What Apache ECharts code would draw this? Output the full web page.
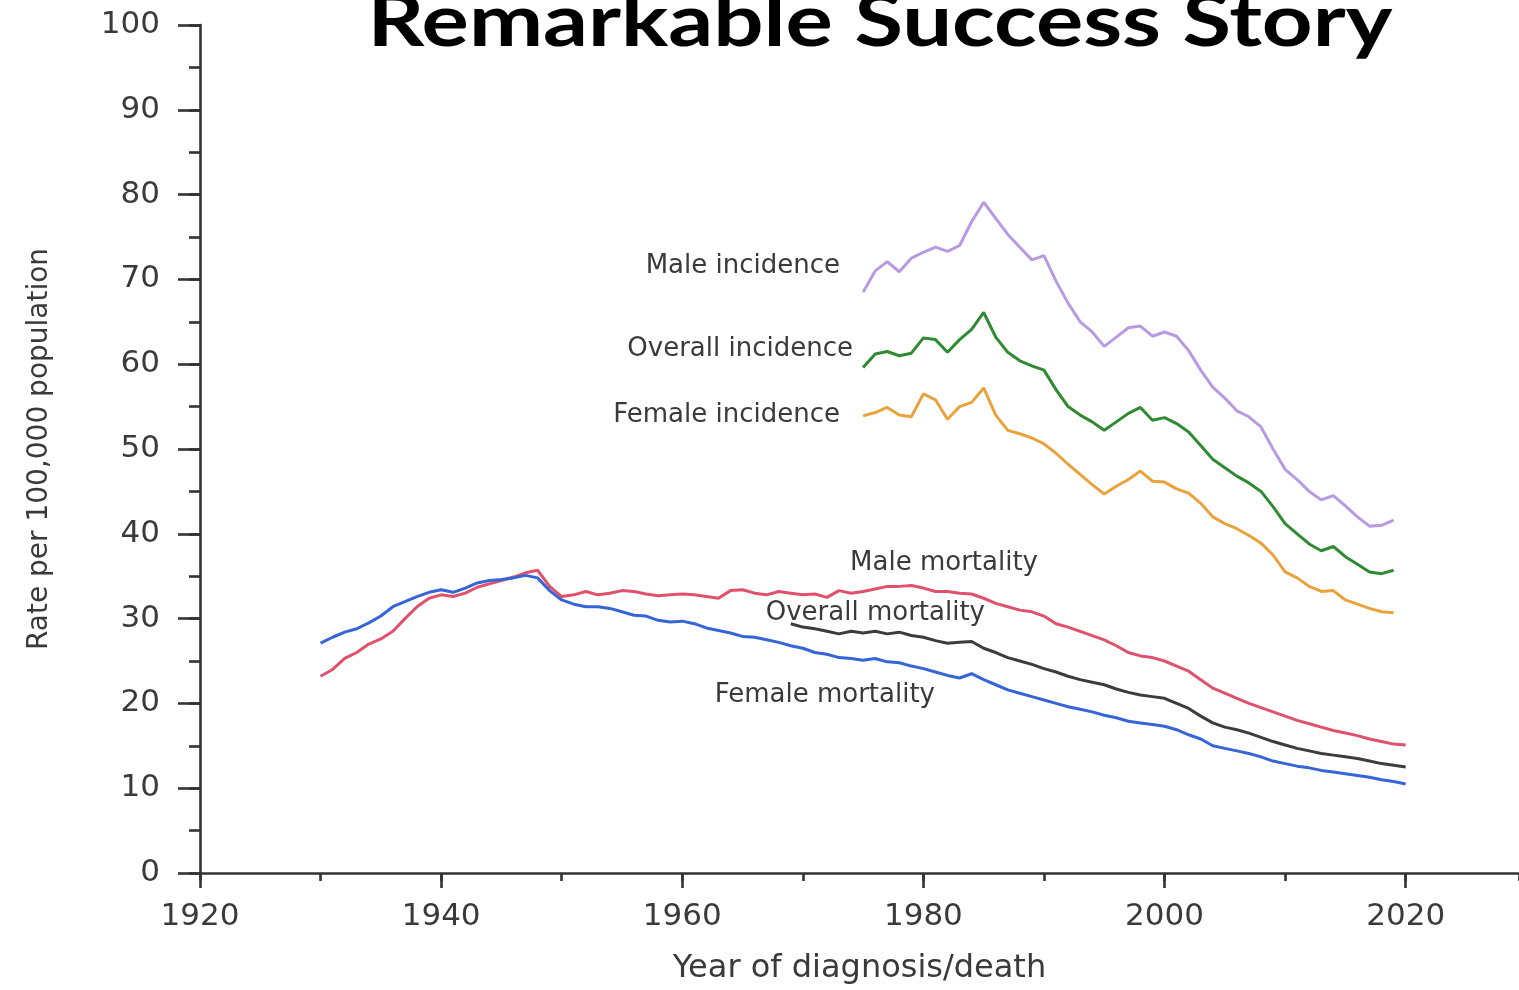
<!DOCTYPE html>
<html>
<head>
<meta charset="utf-8">
<script src="https://cdn.jsdelivr.net/npm/echarts@6/dist/echarts.min.js"></script>
<style>
html,body{margin:0;padding:0;background:#fff;}
#chart{width:1519px;height:990px;}
</style>
</head>
<body>
<div id="chart"></div>
<script>
// ---- Data ----
const mortalityYears = [1930,1931,1932,1933,1934,1935,1936,1937,1938,1939,1940,1941,1942,1943,1944,1945,1946,1947,1948,1949,1950,1951,1952,1953,1954,1955,1956,1957,1958,1959,1960,1961,1962,1963,1964,1965,1966,1967,1968,1969,1970,1971,1972,1973,1974,1975,1976,1977,1978,1979,1980,1981,1982,1983,1984,1985,1986,1987,1988,1989,1990,1991,1992,1993,1994,1995,1996,1997,1998,1999,2000,2001,2002,2003,2004,2005,2006,2007,2008,2009,2010,2011,2012,2013,2014,2015,2016,2017,2018,2019,2020];
const femaleMortality = [27.1,27.8,28.4,28.8,29.5,30.3,31.4,32.0,32.6,33.1,33.4,33.1,33.6,34.2,34.5,34.6,34.8,35.1,34.8,33.3,32.2,31.7,31.4,31.4,31.2,30.8,30.4,30.3,29.8,29.6,29.7,29.4,28.9,28.6,28.3,27.9,27.8,27.5,27.2,26.8,26.5,26.0,25.8,25.4,25.3,25.1,25.3,24.9,24.8,24.4,24.1,23.7,23.3,23.0,23.5,22.8,22.2,21.6,21.2,20.8,20.4,20.0,19.6,19.3,19.0,18.6,18.3,17.9,17.7,17.5,17.3,16.9,16.3,15.8,15.0,14.7,14.4,14.1,13.7,13.2,12.9,12.6,12.4,12.1,11.9,11.7,11.5,11.3,11.0,10.8,10.5];
const maleMortality = [23.2,24.0,25.3,26.0,27.0,27.6,28.5,30.0,31.4,32.4,32.8,32.6,33.0,33.7,34.1,34.5,34.9,35.4,35.7,33.8,32.6,32.8,33.2,32.8,33.0,33.3,33.2,32.9,32.7,32.8,32.9,32.8,32.6,32.4,33.3,33.4,33.0,32.8,33.2,33.0,32.8,32.9,32.5,33.3,33.0,33.2,33.5,33.8,33.8,33.9,33.6,33.2,33.2,33.0,32.9,32.4,31.8,31.4,31.0,30.8,30.3,29.4,29.0,28.5,28.0,27.5,26.8,26.0,25.6,25.4,25.0,24.4,23.8,22.8,21.8,21.2,20.6,20.0,19.5,19.0,18.5,18.0,17.6,17.2,16.8,16.5,16.2,15.8,15.5,15.2,15.1];
const overallMortalityYears = [1969,1970,1971,1972,1973,1974,1975,1976,1977,1978,1979,1980,1981,1982,1983,1984,1985,1986,1987,1988,1989,1990,1991,1992,1993,1994,1995,1996,1997,1998,1999,2000,2001,2002,2003,2004,2005,2006,2007,2008,2009,2010,2011,2012,2013,2014,2015,2016,2017,2018,2019,2020];
const overallMortality = [29.4,29.0,28.8,28.5,28.2,28.5,28.3,28.5,28.2,28.4,28.0,27.8,27.4,27.1,27.2,27.3,26.5,26.0,25.4,25.0,24.6,24.1,23.7,23.2,22.8,22.5,22.2,21.7,21.3,21.0,20.8,20.6,20.0,19.4,18.5,17.7,17.2,16.9,16.5,16.0,15.5,15.1,14.7,14.4,14.1,13.9,13.7,13.5,13.2,12.9,12.7,12.5];
const incidenceYears = [1975,1976,1977,1978,1979,1980,1981,1982,1983,1984,1985,1986,1987,1988,1989,1990,1991,1992,1993,1994,1995,1996,1997,1998,1999,2000,2001,2002,2003,2004,2005,2006,2007,2008,2009,2010,2011,2012,2013,2014,2015,2016,2017,2018,2019];
const maleIncidence = [68.5,71.0,72.1,70.9,72.5,73.2,73.8,73.3,74.0,76.8,79.1,77.2,75.3,73.8,72.3,72.8,69.8,67.2,65.0,63.8,62.1,63.2,64.3,64.5,63.3,63.8,63.3,61.6,59.3,57.3,56.0,54.5,53.8,52.6,50.0,47.6,46.4,45.0,44.0,44.5,43.3,42.0,40.9,41.0,41.6];
const overallIncidence = [59.6,61.2,61.5,61.0,61.3,63.1,62.9,61.4,62.9,64.1,66.1,63.2,61.4,60.4,59.8,59.3,57.0,55.0,54.0,53.2,52.2,53.2,54.2,54.9,53.4,53.7,53.0,52.0,50.4,48.8,47.8,46.8,46.0,45.0,43.2,41.2,40.0,38.8,38.0,38.5,37.3,36.4,35.5,35.3,35.7];
const femaleIncidence = [53.9,54.3,54.9,54.0,53.8,56.5,55.8,53.5,55.0,55.5,57.2,54.0,52.2,51.8,51.3,50.6,49.5,48.2,47.0,45.8,44.7,45.6,46.4,47.4,46.2,46.1,45.3,44.8,43.6,42.0,41.2,40.6,39.8,38.9,37.5,35.5,34.8,33.8,33.2,33.3,32.2,31.7,31.2,30.8,30.7];

const titleText = 'Remarkable Success Story';
const xAxisTitle = 'Year of diagnosis/death';
const yAxisTitle = 'Rate per 100,000 population';
const seriesLabels = ['Male incidence','Overall incidence','Female incidence','Male mortality','Overall mortality','Female mortality'];

function zip(xs, ys){ return xs.map((x,i)=>[x, ys[i]]); }

const chart = echarts.init(document.getElementById('chart'));
const axisColor = '#333';
const labelFont = {fontFamily:'DejaVu Sans', fontSize:31, color:'#3a3a3a'};

function line(name, xs, ys, color){
  return {type:'line', name, data: zip(xs, ys), xAxisIndex:0, yAxisIndex:0,
    showSymbol:false, symbol:'none', smooth:false,
    lineStyle:{color, width:3}, itemStyle:{color}, z:3};
}

function ann(text, right, cy){
  return {type:'text', x:right, y:cy, z:10,
    style:{text, x:0, y:0, align:'right', verticalAlign:'middle',
      font:'26px "DejaVu Sans"', fill:'#3a3a3a'}};
}

const option = {
  animation:false,
  backgroundColor:'#fff',
  grid:{left:200, right:-5, top:25, bottom:115, containLabel:false},
  xAxis:[
    {type:'value', min:1920, max:2029.4, interval:20, position:'bottom',
      axisLine:{show:true, onZero:false, lineStyle:{color:axisColor, width:2.6}},
      axisTick:{show:true, length:15, lineStyle:{color:axisColor, width:2.6}},
      axisLabel:{...labelFont, margin:28, showMaxLabel:false, formatter:v => (v % 20 === 0 ? String(v) : '')},
      splitLine:{show:false},
      name:xAxisTitle, nameLocation:'middle', nameGap:80,
      nameTextStyle:{fontFamily:'DejaVu Sans', fontSize:32, color:'#3a3a3a'}},
    {type:'value', min:1920, max:2029.4, interval:10, position:'bottom', offset:0,
      axisLine:{show:false, onZero:false},
      axisTick:{show:true, length:8, lineStyle:{color:axisColor, width:2.6}},
      axisLabel:{show:false}, splitLine:{show:false}}
  ],
  yAxis:[
    {type:'value', min:0, max:100, interval:10, position:'left',
      axisLine:{show:true, onZero:false, lineStyle:{color:axisColor, width:2.6}},
      axisTick:{show:true, length:22, lineStyle:{color:axisColor, width:2.6}},
      axisLabel:{...labelFont, margin:40},
      splitLine:{show:false},
      name:yAxisTitle, nameLocation:'middle', nameGap:146,
      nameTextStyle:{fontFamily:'DejaVu Sans', fontSize:28, color:'#3a3a3a'}},
    {type:'value', min:0, max:100, interval:5, position:'left', offset:0,
      axisLine:{show:false, onZero:false},
      axisTick:{show:true, length:11, lineStyle:{color:axisColor, width:2.6}},
      axisLabel:{show:false}, splitLine:{show:false}}
  ],
  series:[
    line(seriesLabels[0], incidenceYears, maleIncidence, '#b79be2'),
    line(seriesLabels[1], incidenceYears, overallIncidence, '#2f8a32'),
    line(seriesLabels[2], incidenceYears, femaleIncidence, '#e9a23c'),
    line(seriesLabels[3], mortalityYears, maleMortality, '#e0516c'),
    line(seriesLabels[4], overallMortalityYears, overallMortality, '#3c3c3c'),
    line(seriesLabels[5], mortalityYears, femaleMortality, '#3565d6')
  ],
  graphic:[
    {type:'text', x:880, y:23, scaleX:1.23, z:20,
      style:{text:titleText, x:0, y:0, align:'center', verticalAlign:'middle',
        font:'bold 72px Lato', fill:'#000'}},
    ann(seriesLabels[0], 840, 266),
    ann(seriesLabels[1], 853, 349),
    ann(seriesLabels[2], 840, 415),
    ann(seriesLabels[3], 1038, 563),
    ann(seriesLabels[4], 985, 613),
    ann(seriesLabels[5], 935, 695)
  ]
};
chart.setOption(option);
</script>
</body>
</html>
